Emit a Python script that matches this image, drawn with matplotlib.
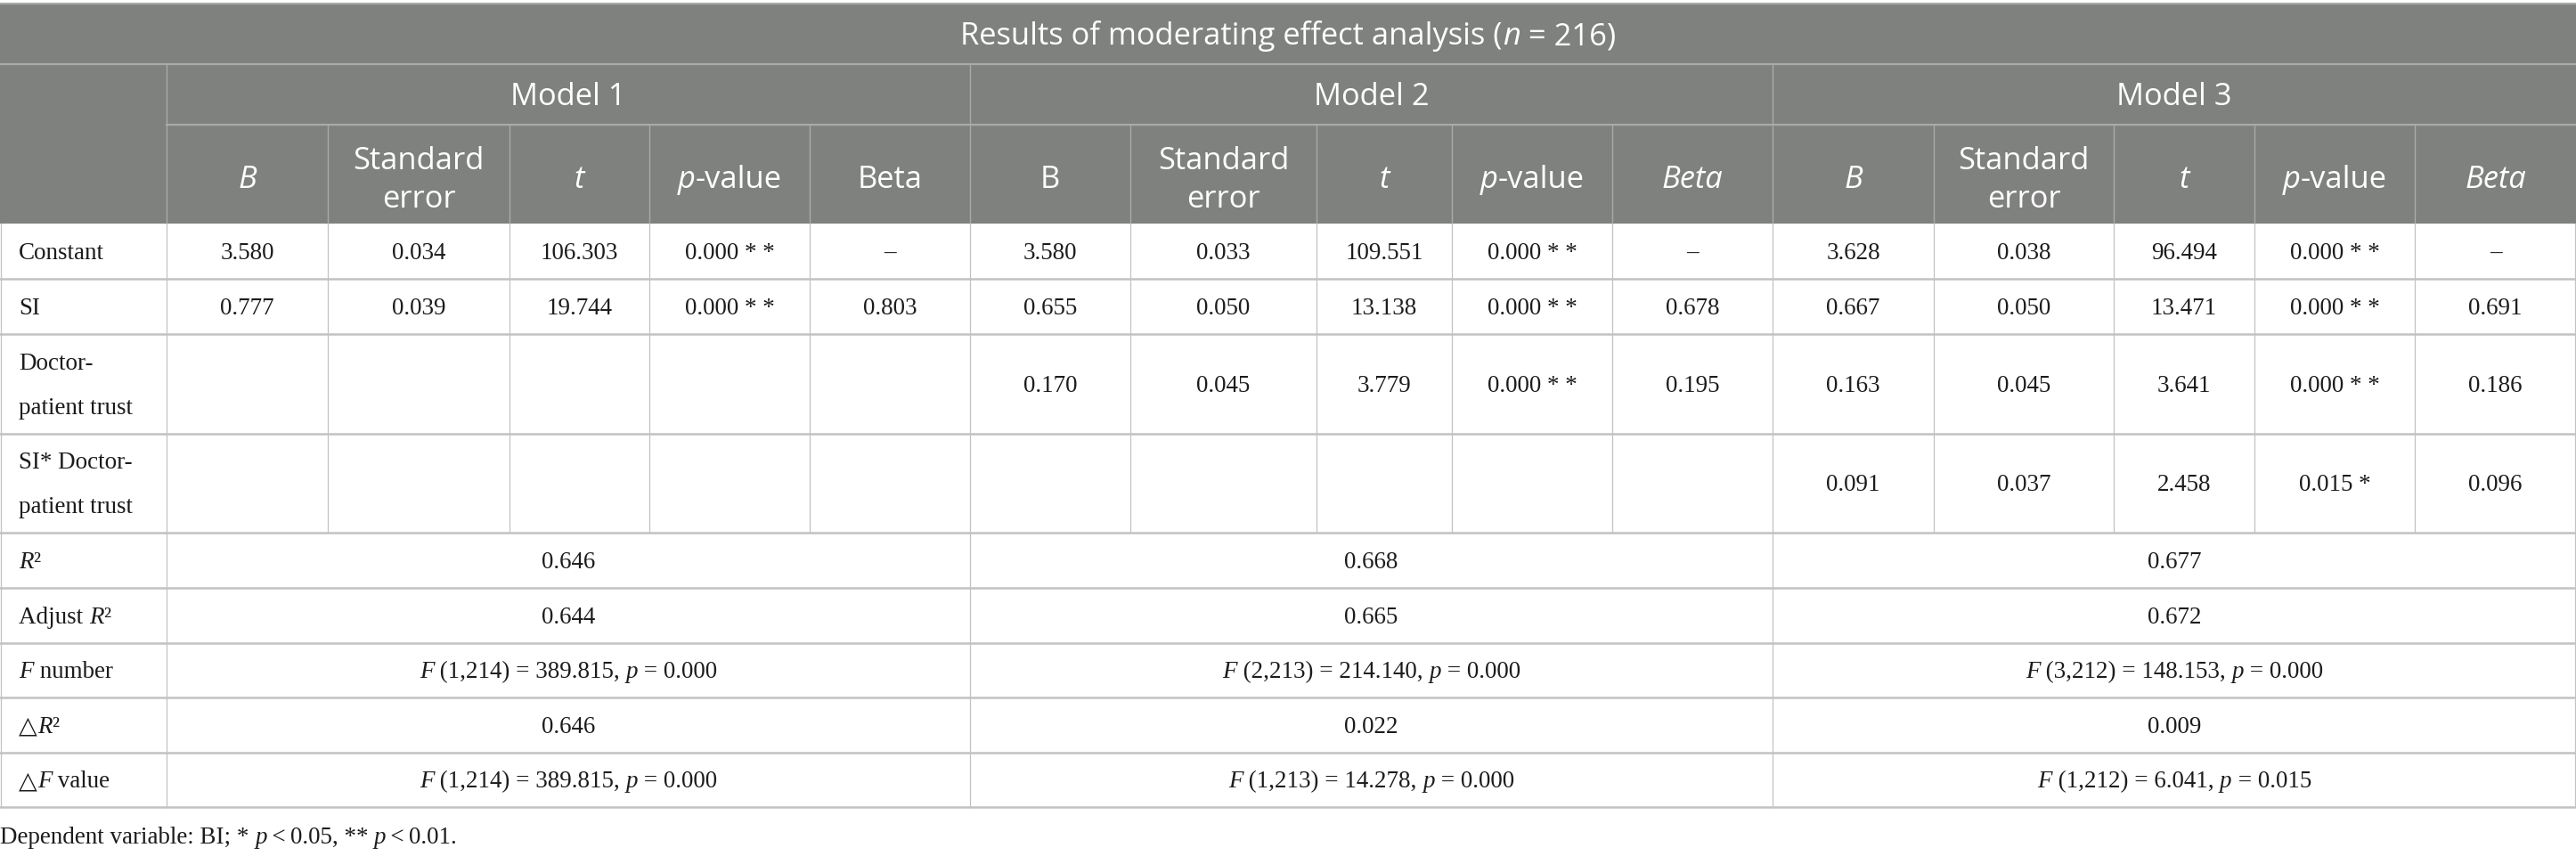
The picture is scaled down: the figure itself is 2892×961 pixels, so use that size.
import matplotlib
matplotlib.use("Agg")
import matplotlib.pyplot as plt

# ---- table content ----
title_runs = [("Results of moderating effect analysis (", "normal"), ("n", "italic"), (" = 216)", "normal")]
model_names = ["Model 1", "Model 2", "Model 3"]

# column headers per model: list of runs (text, style)
sub_headers = [
    [[("B", "italic")], [("Standard\nerror", "normal")], [("t", "italic")],
     [("p", "italic"), ("-value", "normal")], [("Beta", "normal")]],
    [[("B", "normal")], [("Standard\nerror", "normal")], [("t", "italic")],
     [("p", "italic"), ("-value", "normal")], [("Beta", "italic")]],
    [[("B", "italic")], [("Standard\nerror", "normal")], [("t", "italic")],
     [("p", "italic"), ("-value", "normal")], [("Beta", "italic")]],
]

row_labels = ["Constant", "SI", "Doctor-\npatient trust", "SI* Doctor-\npatient trust"]

model1_rows = [
    ["3.580", "0.034", "106.303", "0.000 * *", "–"],
    ["0.777", "0.039", "19.744", "0.000 * *", "0.803"],
    ["", "", "", "", ""],
    ["", "", "", "", ""],
]
model2_rows = [
    ["3.580", "0.033", "109.551", "0.000 * *", "–"],
    ["0.655", "0.050", "13.138", "0.000 * *", "0.678"],
    ["0.170", "0.045", "3.779", "0.000 * *", "0.195"],
    ["", "", "", "", ""],
]
model3_rows = [
    ["3.628", "0.038", "96.494", "0.000 * *", "–"],
    ["0.667", "0.050", "13.471", "0.000 * *", "0.691"],
    ["0.163", "0.045", "3.641", "0.000 * *", "0.186"],
    ["0.091", "0.037", "2.458", "0.015 *", "0.096"],
]

r2 = ["0.646", "0.668", "0.677"]
adj_r2 = ["0.644", "0.665", "0.672"]
f_df = ["1,214", "2,213", "3,212"]
f_val = ["389.815", "214.140", "148.153"]
f_p = ["0.000", "0.000", "0.000"]
d_r2 = ["0.646", "0.022", "0.009"]
df_df = ["1,214", "1,213", "1,212"]
df_val = ["389.815", "14.278", "6.041"]
df_p = ["0.000", "0.000", "0.015"]

summary_labels = [
    [("R", "italic"), ("²", "normal")],
    [("Adjust ", "normal"), ("R", "italic"), ("²", "normal")],
    [("F", "italic"), (" number", "normal")],
    [("△", "normal"), ("R", "italic"), ("²", "normal")],
    [("△", "normal"), ("F", "italic"), (" value", "normal")],
]

footnote_runs = [("Dependent variable: BI; * ", "normal"), ("p", "italic"), ("\u2009<\u20090.05, ** ", "normal"),
                 ("p", "italic"), ("\u2009<\u20090.01.", "normal")]

# ---- layout (pixels) ----
W, H = 2892, 961
col_x = [0, 187, 368, 572, 729, 909, 1089, 1269, 1478, 1630, 1810, 1990,
         2171, 2373, 2531, 2711, 2892]
group_x = [187, 1089, 1990, 2892]
y_top, y_title, y_model, y_head = 4, 72, 140, 251
body_rows_y = [251, 313, 375, 487, 598]
summary_rows_y = [598, 660, 722, 783, 845, 906]

header_bg = "#7f817f"
header_line = "#a9aaa9"
body_line = "#c2c2c2"
text_dark = "#1c1c1c"
serif = ["Liberation Serif", "DejaVu Serif"]
sans = ["Open Sans", "DejaVu Sans"]
body_px = 27
head_px = 34.5

fig = plt.figure(figsize=(W / 100, H / 100), dpi=100)
ax = fig.add_axes([0, 0, 1, 1])
ax.set_xlim(0, W)
ax.set_ylim(H, 0)
ax.axis("off")
renderer = fig.canvas.get_renderer()


def run_width(s, **kw):
    t = ax.text(0, 0, "|" + s + "|", **kw)
    w1 = t.get_window_extent(renderer).width
    t.remove()
    t = ax.text(0, 0, "||", **kw)
    w0 = t.get_window_extent(renderer).width
    t.remove()
    return w1 - w0


def draw_runs(x, yc, runs, family, px, color, ha="center", cap=0.66):
    size = px * 0.72
    widths = [run_width(s, fontsize=size, fontstyle=st, family=family) for s, st in runs]
    total = sum(widths)
    x0 = x - total / 2 if ha == "center" else x
    base = yc + cap * px / 2
    for (s, st), w in zip(runs, widths):
        ax.text(x0, base, s, fontsize=size, fontstyle=st, family=family, color=color,
                ha="left", va="baseline")
        x0 += w


# header background
ax.add_patch(plt.Rectangle((0, y_top), W, y_head - y_top, color=header_bg, lw=0, zorder=0))

# header lines
ax.plot([0, W], [y_top, y_top], color=header_line, lw=1.6)
ax.plot([0, W], [y_title, y_title], color=header_line, lw=1.6)
ax.plot([group_x[0], W], [y_model, y_model], color=header_line, lw=1.6)
for gx in group_x[:-1]:
    ax.plot([gx, gx], [y_title, y_head], color=header_line, lw=1.0)
for cx in col_x[1:-1]:
    if cx not in group_x:
        ax.plot([cx, cx], [y_model, y_head], color=header_line, lw=1.0)

# header text
draw_runs(W / 2, (y_top + y_title) / 2, title_runs, sans, head_px, "white", cap=0.714)
for i, name in enumerate(model_names):
    draw_runs((group_x[i] + group_x[i + 1]) / 2, (y_title + y_model) / 2, [(name, "normal")],
              sans, head_px, "white", cap=0.714)
    for j, runs in enumerate(sub_headers[i]):
        c = i * 5 + 1 + j
        xc = (col_x[c] + col_x[c + 1]) / 2
        yc = (y_model + y_head) / 2 + 3
        if "\n" in runs[0][0]:
            lines = runs[0][0].split("\n")
            draw_runs(xc, yc - 21, [(lines[0], "normal")], sans, head_px, "white", cap=0.714)
            draw_runs(xc, yc + 22, [(lines[1], "normal")], sans, head_px, "white", cap=0.714)
        else:
            draw_runs(xc, yc, runs, sans, head_px, "white", cap=0.714)

# body lines
for y in body_rows_y[1:] + summary_rows_y[1:]:
    ax.plot([0, W], [y, y], color=body_line, lw=1.8)
for cx in col_x:
    xx = min(max(cx, 0.7), W - 0.7)
    ax.plot([xx, xx], [y_head, body_rows_y[-1]], color=body_line, lw=0.9)
for cx in [0] + group_x:
    xx = min(max(cx, 0.7), W - 0.7)
    ax.plot([xx, xx], [summary_rows_y[0], summary_rows_y[-1]], color=body_line, lw=0.9)

# body text
all_models = [model1_rows, model2_rows, model3_rows]
for r, label in enumerate(row_labels):
    yc = (body_rows_y[r] + body_rows_y[r + 1]) / 2
    lines = label.split("\n")
    if len(lines) == 1:
        draw_runs(21, yc, [(lines[0], "normal")], serif, body_px, text_dark, ha="left")
    else:
        draw_runs(21, yc - 25, [(lines[0], "normal")], serif, body_px, text_dark, ha="left")
        draw_runs(21, yc + 25, [(lines[1], "normal")], serif, body_px, text_dark, ha="left")
    for m, rows in enumerate(all_models):
        for j, val in enumerate(rows[r]):
            if val:
                c = m * 5 + 1 + j
                draw_runs((col_x[c] + col_x[c + 1]) / 2, yc, [(val, "normal")], serif, body_px, text_dark)

for r, runs in enumerate(summary_labels):
    yc = (summary_rows_y[r] + summary_rows_y[r + 1]) / 2
    draw_runs(21, yc, runs, serif, body_px, text_dark, ha="left")

for m in range(3):
    xc = (group_x[m] + group_x[m + 1]) / 2
    cells = [
        [(r2[m], "normal")],
        [(adj_r2[m], "normal")],
        [("F", "italic"), (" (" + f_df[m] + ") = " + f_val[m] + ", ", "normal"), ("p", "italic"),
         (" = " + f_p[m], "normal")],
        [(d_r2[m], "normal")],
        [("F", "italic"), (" (" + df_df[m] + ") = " + df_val[m] + ", ", "normal"), ("p", "italic"),
         (" = " + df_p[m], "normal")],
    ]
    for r, runs in enumerate(cells):
        yc = (summary_rows_y[r] + summary_rows_y[r + 1]) / 2
        draw_runs(xc, yc, runs, serif, body_px, text_dark)

# footnote
draw_runs(0, 938, footnote_runs, serif, body_px, text_dark, ha="left")

fig.savefig("out.png", dpi=100, facecolor="white")
